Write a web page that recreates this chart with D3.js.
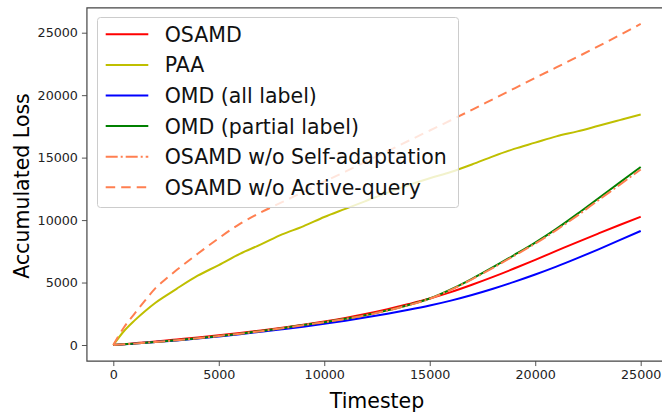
<!DOCTYPE html>
<html>
<head>
<meta charset="utf-8">
<script src="https://cdn.jsdelivr.net/npm/d3@7"></script>
<style>
  body { margin: 0; background: #fff; }
  svg { font-family: "DejaVu Sans", sans-serif; }
</style>
</head>
<body>
<div class="chart"></div>
<script>
// timesteps shared by every series
const steps = [0, 500, 1000, 1500, 2000, 2500, 3000, 4000, 5000, 6000, 7000, 8000, 9000, 10000,
  11000, 12000, 13000, 14000, 15000, 16000, 17000, 18000, 19000, 20000, 21000, 22000, 23000, 24000, 25000];

const osamd = [0, 65, 140, 210, 290, 360, 440, 600, 780, 960, 1160, 1380, 1620, 1880,
  2170, 2500, 2870, 3280, 3720, 4230, 4820, 5450, 6120, 6820, 7530, 8240, 8930, 9610, 10270];
const paa = [0, 1100, 1950, 2700, 3380, 3950, 4500, 5550, 6400, 7300, 8050, 8850, 9500, 10250,
  10900, 11550, 12200, 12800, 13350, 13850, 14450, 15100, 15700, 16200, 16700, 17100, 17550, 18000, 18450];
const omdAll = [0, 50, 110, 175, 240, 305, 370, 520, 690, 870, 1060, 1260, 1470, 1700,
  1950, 2220, 2510, 2820, 3160, 3550, 4000, 4500, 5050, 5640, 6270, 6950, 7660, 8390, 9130];
const omdPartial = [0, 55, 110, 175, 240, 310, 380, 540, 720, 910, 1120, 1350, 1600, 1830,
  2100, 2400, 2770, 3200, 3720, 4450, 5300, 6230, 7200, 8200, 9300, 10500, 11750, 13000, 14250];
const noSelfAdapt = [0, 55, 110, 175, 240, 310, 380, 540, 720, 900, 1110, 1340, 1590, 1820,
  2090, 2390, 2760, 3190, 3700, 4420, 5260, 6180, 7140, 8120, 9200, 10360, 11600, 12820, 14050];
const noActiveQuery = [0, 1400, 2500, 3550, 4550, 5300, 6000, 7300, 8550, 9700, 10620, 11430, 12250, 13070,
  13880, 14700, 15520, 16350, 17170, 17990, 18830, 19680, 20530, 21380, 22220, 23060, 23920, 24800, 25700];

const xTicks = [0, 5000, 10000, 15000, 20000, 25000];
const yTicks = [0, 5000, 10000, 15000, 20000, 25000];

const seriesNames = ["OSAMD", "PAA", "OMD (all label)", "OMD (partial label)",
  "OSAMD w/o Self-adaptation", "OSAMD w/o Active-query"];
const seriesValues = [osamd, paa, omdAll, omdPartial, noSelfAdapt, noActiveQuery];
const seriesColors = ["#ff0000", "#bfbf00", "#0000ff", "#008000", "#ff7f50", "#ff7f50"];
const seriesDash = [null, null, null, null, "12,3,2,3", "9.5,6"];

const w = 662;
const h = 412;

const xScale = d3.scaleLinear().domain([0, 25000]).range([113.3, 640.7]);
const yScale = d3.scaleLinear().domain([0, 25000]).range([345, 32.7]);

// frame limits (matplotlib style margins)
const frameLeft = xScale(-1250);
const frameRight = xScale(26250);
const frameBottom = yScale(-1285);
const frameTop = yScale(26985);

const svg = d3.select(".chart").append("svg").attr("width", w).attr("height", h);

// curves
const line = d3.line()
  .curve(d3.curveMonotoneX)
  .x((d, i) => xScale(steps[i]))
  .y((d) => yScale(d));

seriesValues.forEach(function (vals, k) {
  svg.append("path")
    .datum(vals)
    .attr("d", line)
    .attr("fill", "none")
    .attr("stroke", seriesColors[k])
    .attr("stroke-width", 2)
    .attr("stroke-dasharray", seriesDash[k])
    .attr("stroke-linejoin", "round");
});

// axes
const xAxis = d3.axisBottom(xScale).tickValues(xTicks).tickSize(5).tickPadding(4).tickFormat(d3.format("d"));
const yAxis = d3.axisLeft(yScale).tickValues(yTicks).tickSize(5).tickPadding(4).tickFormat(d3.format("d"));

const gx = svg.append("g").attr("transform", "translate(0," + frameBottom + ")").call(xAxis);
const gy = svg.append("g").attr("transform", "translate(" + frameLeft + ",0)").call(yAxis);

[gx, gy].forEach(function (g) {
  g.select(".domain").remove();
  g.selectAll(".tick line").attr("stroke", "#555").attr("stroke-width", 1);
  g.selectAll(".tick text")
    .attr("fill", "#222")
    .style("font-size", "12.7px")
    .style("font-family", "DejaVu Sans, sans-serif");
});

// spines
svg.append("path")
  .attr("d", "M" + frameRight + "," + frameTop + "H" + frameLeft + "V" + frameBottom + "H" + frameRight)
  .attr("fill", "none")
  .attr("stroke", "#444")
  .attr("stroke-width", 1.2);

// axis labels
svg.append("text")
  .attr("x", 377)
  .attr("y", 408)
  .attr("text-anchor", "middle")
  .style("font-size", "20.5px")
  .text("Timestep");

svg.append("text")
  .attr("transform", "translate(29,186) rotate(-90)")
  .attr("text-anchor", "middle")
  .style("font-size", "20.5px")
  .text("Accumulated Loss");

// legend
const legend = svg.append("g").attr("id", "legend");
legend.append("rect")
  .attr("x", 97.5)
  .attr("y", 17.5)
  .attr("width", 361)
  .attr("height", 190)
  .attr("rx", 3)
  .attr("fill", "#fff")
  .attr("fill-opacity", 0.8)
  .attr("stroke", "#ccc")
  .attr("stroke-width", 1);

seriesNames.forEach(function (name, k) {
  const yy = 34.3 + k * 30.6;
  legend.append("line")
    .attr("x1", 105.7)
    .attr("x2", 148.3)
    .attr("y1", yy)
    .attr("y2", yy)
    .attr("stroke", seriesColors[k])
    .attr("stroke-width", 2)
    .attr("stroke-dasharray", seriesDash[k]);
  legend.append("text")
    .attr("x", 164.7)
    .attr("y", yy + 7.5)
    .style("font-size", "20.5px")
    .attr("fill", "#111")
    .text(name);
});
</script>
</body>
</html>
